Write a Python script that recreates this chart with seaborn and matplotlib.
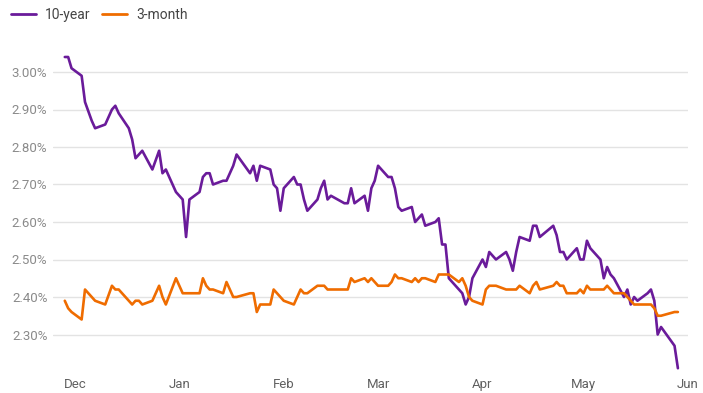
import matplotlib
matplotlib.use("Agg")
import matplotlib.pyplot as plt
import matplotlib.dates as mdates
from matplotlib.ticker import FuncFormatter
import numpy as np
import pandas as pd
import seaborn as sns

# trading days shown, bond market holidays left out
start_day = "2018-11-28"
end_day = "2019-05-29"
market_holidays = ["2018-12-05", "2018-12-25", "2019-01-01", "2019-01-21",
                   "2019-02-18", "2019-04-19", "2019-05-27"]

# 10-year yield, % (one row per month)
ten_year = [
    3.04, 3.04, 3.01,
    2.99, 2.92, 2.87, 2.85, 2.86, 2.88, 2.90, 2.91, 2.89, 2.85, 2.82, 2.77,
    2.78, 2.79, 2.74, 2.79, 2.73, 2.74, 2.68,
    2.66, 2.56, 2.66, 2.68, 2.72, 2.73, 2.73, 2.70, 2.71, 2.71, 2.73, 2.75,
    2.78, 2.73, 2.75, 2.71, 2.75, 2.74, 2.70, 2.69, 2.63,
    2.69, 2.72, 2.70, 2.70, 2.66, 2.63, 2.66, 2.69, 2.71, 2.66, 2.67, 2.65,
    2.65, 2.69, 2.65, 2.67, 2.63, 2.69, 2.71,
    2.75, 2.72, 2.72, 2.69, 2.64, 2.63, 2.64, 2.60, 2.61, 2.62, 2.59, 2.60,
    2.61, 2.54, 2.54, 2.45, 2.42, 2.41, 2.38, 2.40, 2.45,
    2.50, 2.48, 2.52, 2.51, 2.50, 2.52, 2.50, 2.47, 2.52, 2.56, 2.55, 2.59,
    2.59, 2.56, 2.59, 2.565, 2.52, 2.52, 2.50, 2.53, 2.50,
    2.50, 2.55, 2.53, 2.50, 2.45, 2.48, 2.46, 2.45, 2.40, 2.42, 2.38, 2.40,
    2.39, 2.41, 2.42, 2.39, 2.30, 2.32, 2.27, 2.21,
]

# 3-month yield, %
three_month = [
    2.39, 2.37, 2.36,
    2.34, 2.42, 2.40, 2.39, 2.38, 2.405, 2.43, 2.42, 2.42, 2.39, 2.38, 2.39,
    2.39, 2.38, 2.39, 2.43, 2.40, 2.38, 2.45,
    2.41, 2.41, 2.41, 2.41, 2.45, 2.43, 2.42, 2.42, 2.41, 2.44, 2.42, 2.40,
    2.40, 2.41, 2.41, 2.36, 2.38, 2.38, 2.42, 2.41, 2.40,
    2.39, 2.38, 2.40, 2.42, 2.41, 2.41, 2.43, 2.43, 2.43, 2.42, 2.42, 2.42,
    2.42, 2.45, 2.44, 2.45, 2.44, 2.45, 2.44,
    2.43, 2.43, 2.44, 2.46, 2.45, 2.45, 2.44, 2.45, 2.44, 2.45, 2.45, 2.44,
    2.46, 2.46, 2.46, 2.46, 2.44, 2.45, 2.43, 2.40, 2.39,
    2.38, 2.42, 2.43, 2.43, 2.43, 2.42, 2.42, 2.42, 2.42, 2.43, 2.41, 2.43,
    2.44, 2.42, 2.43, 2.44, 2.43, 2.43, 2.41, 2.41, 2.42,
    2.41, 2.43, 2.42, 2.42, 2.42, 2.43, 2.42, 2.41, 2.41, 2.40, 2.39, 2.38,
    2.38, 2.38, 2.38, 2.37, 2.35, 2.35, 2.36, 2.36,
]

series_names = ["10-year", "3-month"]
colors = {"10-year": "#6a1b9a", "3-month": "#ef6c00"}
y_ticks = [2.30, 2.40, 2.50, 2.60, 2.70, 2.80, 2.90, 3.00]

dates = pd.bdate_range(start_day, end_day, freq="C", holidays=market_holidays)

df = pd.concat([
    pd.DataFrame({"date": dates, "yield": ten_year, "series": "10-year"}),
    pd.DataFrame({"date": dates, "yield": three_month, "series": "3-month"}),
])

sns.set_style("white")
plt.rcParams["font.family"] = ["Roboto", "DejaVu Sans"]

fig = plt.figure(figsize=(7.03, 3.93), dpi=100)
ax = fig.add_axes([53 / 703, 21 / 393, 635 / 703, 318.75 / 393])

sns.lineplot(data=df, x="date", y="yield", hue="series", hue_order=series_names,
             palette=colors, linewidth=1.9, ax=ax, legend=False)

ax.set_xlim(pd.Timestamp("2018-11-24 12:00"), pd.Timestamp("2019-06-01"))
ax.set_ylim(2.20, 3.05)
ax.set_yticks(y_ticks)
ax.yaxis.set_major_formatter(FuncFormatter(lambda v, p: f"{v:.2f}%"))
ax.xaxis.set_major_locator(mdates.MonthLocator())
ax.xaxis.set_major_formatter(mdates.DateFormatter("%b"))

ax.grid(axis="y", color="#e3e3e3", linewidth=1)
ax.grid(axis="x", visible=False)
for s in ax.spines.values():
    s.set_visible(False)
ax.tick_params(axis="y", length=0, pad=4, labelsize=9.5, labelcolor="#8a8a8a")
ax.tick_params(axis="x", length=0, pad=4, labelsize=9.5, labelcolor="#616161")
ax.set_xlabel("")
ax.set_ylabel("")

# legend across the top
handles = [plt.Line2D([], [], color=colors[n], linewidth=2) for n in series_names]
fig.legend(handles, series_names, loc="upper left", bbox_to_anchor=(0.005, 1.0),
           ncol=2, frameon=False, fontsize=10, handlelength=1.8,
           handletextpad=0.6, columnspacing=0.9, labelcolor="#444444",
           borderaxespad=0.15)

fig.savefig("out.png", dpi=100)
